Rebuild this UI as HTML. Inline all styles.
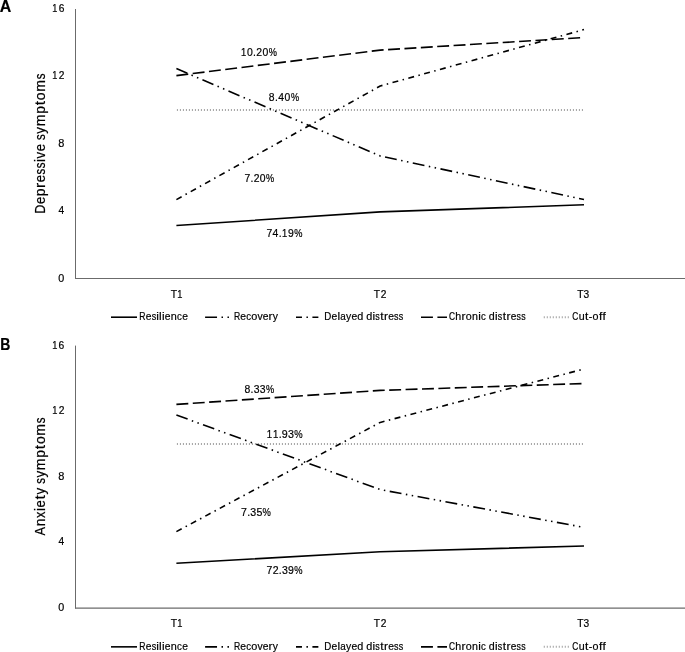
<!DOCTYPE html>
<html><head><meta charset="utf-8"><style>
html,body{margin:0;padding:0;background:#fff;}
svg{display:block;filter:grayscale(1);font-family:"Liberation Sans",sans-serif;font-size:100px;}
</style></head><body>
<svg width="685" height="652" viewBox="0 0 685 652">
<rect width="685" height="652" fill="#fff"/>
<line x1="75.5" y1="9.00" x2="75.5" y2="279.00" stroke="#6b6b6b" stroke-width="1"/>
<line x1="75" y1="278.50" x2="685" y2="278.50" stroke="#6b6b6b" stroke-width="1"/>
<g font-weight="normal" fill="#000" stroke="#000" stroke-width="0.2" ><text transform="translate(52.30,12.10) scale(0.091633,0.111748)" vector-effect="non-scaling-stroke">1</text><text transform="translate(58.63,12.10) scale(0.101871,0.111748)" vector-effect="non-scaling-stroke">6</text></g>
<g font-weight="normal" fill="#000" stroke="#000" stroke-width="0.2" ><text transform="translate(52.30,79.48) scale(0.091633,0.111748)" vector-effect="non-scaling-stroke">1</text><text transform="translate(58.70,79.48) scale(0.101871,0.111748)" vector-effect="non-scaling-stroke">2</text></g>
<g font-weight="normal" fill="#000" stroke="#000" stroke-width="0.2" ><text transform="translate(58.22,146.85) scale(0.110043,0.111748)" vector-effect="non-scaling-stroke">8</text></g>
<g font-weight="normal" fill="#000" stroke="#000" stroke-width="0.2" ><text transform="translate(58.48,214.22) scale(0.102183,0.113372)" vector-effect="non-scaling-stroke">4</text></g>
<g font-weight="normal" fill="#000" stroke="#000" stroke-width="0.2" ><text transform="translate(58.27,281.60) scale(0.107741,0.111748)" vector-effect="non-scaling-stroke">0</text></g>
<g fill="#000" stroke="#000" stroke-width="0.2"><text transform="translate(45.14,213.69) rotate(-90) scale(0.125514,0.147384)" vector-effect="non-scaling-stroke">D</text><text transform="translate(45.14,204.02) rotate(-90) scale(0.131972,0.138541)" vector-effect="non-scaling-stroke">e</text><text transform="translate(45.14,196.13) rotate(-90) scale(0.139127,0.138541)" vector-effect="non-scaling-stroke">p</text><text transform="translate(45.14,187.92) rotate(-90) scale(0.154465,0.138541)" vector-effect="non-scaling-stroke">r</text><text transform="translate(45.14,182.32) rotate(-90) scale(0.131972,0.138541)" vector-effect="non-scaling-stroke">e</text><text transform="translate(45.14,174.50) rotate(-90) scale(0.115254,0.138541)" vector-effect="non-scaling-stroke">s</text><text transform="translate(45.14,168.32) rotate(-90) scale(0.115254,0.138541)" vector-effect="non-scaling-stroke">s</text><text transform="translate(45.14,162.22) rotate(-90) scale(0.151924,0.147384)" vector-effect="non-scaling-stroke">i</text><text transform="translate(45.14,158.48) rotate(-90) scale(0.133235,0.138541)" vector-effect="non-scaling-stroke">v</text><text transform="translate(45.14,151.31) rotate(-90) scale(0.131972,0.138541)" vector-effect="non-scaling-stroke">e</text><text transform="translate(45.14,139.91) rotate(-90) scale(0.115254,0.138541)" vector-effect="non-scaling-stroke">s</text><text transform="translate(45.14,133.69) rotate(-90) scale(0.133530,0.138541)" vector-effect="non-scaling-stroke">y</text><text transform="translate(45.14,126.34) rotate(-90) scale(0.141368,0.138541)" vector-effect="non-scaling-stroke">m</text><text transform="translate(45.14,113.85) rotate(-90) scale(0.139127,0.138541)" vector-effect="non-scaling-stroke">p</text><text transform="translate(45.14,105.33) rotate(-90) scale(0.154753,0.147384)" vector-effect="non-scaling-stroke">t</text><text transform="translate(45.14,100.25) rotate(-90) scale(0.139657,0.138541)" vector-effect="non-scaling-stroke">o</text><text transform="translate(45.14,91.77) rotate(-90) scale(0.141368,0.138541)" vector-effect="non-scaling-stroke">m</text><text transform="translate(45.14,79.35) rotate(-90) scale(0.115254,0.138541)" vector-effect="non-scaling-stroke">s</text></g>
<text transform="translate(-0.32,11.70) scale(0.159701,0.162064)" font-weight="bold" fill="#000" stroke="#000" stroke-width="0.2" vector-effect="non-scaling-stroke">A</text>
<g font-weight="normal" fill="#000" stroke="#000" stroke-width="0.2" ><text transform="translate(170.77,297.60) scale(0.104302,0.113372)" vector-effect="non-scaling-stroke">T</text><text transform="translate(177.28,297.60) scale(0.092965,0.113372)" vector-effect="non-scaling-stroke">1</text></g>
<g font-weight="normal" fill="#000" stroke="#000" stroke-width="0.2" ><text transform="translate(373.87,297.60) scale(0.102808,0.111748)" vector-effect="non-scaling-stroke">T</text><text transform="translate(380.65,297.60) scale(0.101871,0.111748)" vector-effect="non-scaling-stroke">2</text></g>
<g font-weight="normal" fill="#000" stroke="#000" stroke-width="0.2" ><text transform="translate(577.17,297.60) scale(0.102808,0.111748)" vector-effect="non-scaling-stroke">T</text><text transform="translate(583.38,297.60) scale(0.101871,0.111748)" vector-effect="non-scaling-stroke">3</text></g>
<polyline points="176.90,110.00 584.00,110.00" fill="none" stroke="#a9a9a9" stroke-width="2.0" stroke-linejoin="round" stroke-linecap="butt" stroke-dasharray="1.1 1.9"/>
<polyline points="176.40,225.50 380.20,211.90 584.00,204.80" fill="none" stroke="#000" stroke-width="1.6" stroke-linejoin="round" stroke-linecap="butt"/>
<polyline points="176.40,68.60 380.20,156.00 584.00,199.50" fill="none" stroke="#000" stroke-width="1.6" stroke-linejoin="round" stroke-linecap="butt" stroke-dasharray="11.932 4.474 1.492 4.474 1.492 4.474"/>
<polyline points="176.40,199.60 380.20,86.00 584.00,29.60" fill="none" stroke="#000" stroke-width="1.6" stroke-linejoin="round" stroke-linecap="butt" stroke-dasharray="5.966 4.474 1.492 4.474"/>
<polyline points="176.40,75.60 380.20,50.10 584.00,37.50" fill="none" stroke="#000" stroke-width="1.6" stroke-linejoin="round" stroke-linecap="butt" stroke-dasharray="11.932 4.474"/>
<g font-weight="normal" fill="#000" stroke="#000" stroke-width="0.2" ><text transform="translate(241.09,56.00) scale(0.093983,0.114613)" vector-effect="non-scaling-stroke">1</text><text transform="translate(246.97,56.00) scale(0.104483,0.114613)" vector-effect="non-scaling-stroke">0</text><text transform="translate(253.05,56.00) scale(0.103952,0.114613)" vector-effect="non-scaling-stroke">.</text><text transform="translate(256.21,56.00) scale(0.104483,0.114613)" vector-effect="non-scaling-stroke">2</text><text transform="translate(262.38,56.00) scale(0.104483,0.114613)" vector-effect="non-scaling-stroke">0</text><text transform="translate(268.63,56.00) scale(0.092164,0.114613)" vector-effect="non-scaling-stroke">%</text></g>
<g font-weight="normal" fill="#000" stroke="#000" stroke-width="0.2" ><text transform="translate(268.74,100.75) scale(0.103830,0.113897)" vector-effect="non-scaling-stroke">8</text><text transform="translate(274.95,100.75) scale(0.103303,0.113897)" vector-effect="non-scaling-stroke">.</text><text transform="translate(278.25,100.75) scale(0.103830,0.113897)" vector-effect="non-scaling-stroke">4</text><text transform="translate(284.61,100.75) scale(0.103830,0.113897)" vector-effect="non-scaling-stroke">0</text><text transform="translate(291.08,100.75) scale(0.091588,0.113897)" vector-effect="non-scaling-stroke">%</text></g>
<g font-weight="normal" fill="#000" stroke="#000" stroke-width="0.2" ><text transform="translate(244.52,181.60) scale(0.103830,0.113897)" vector-effect="non-scaling-stroke">7</text><text transform="translate(250.54,181.60) scale(0.103303,0.113897)" vector-effect="non-scaling-stroke">.</text><text transform="translate(253.66,181.60) scale(0.103830,0.113897)" vector-effect="non-scaling-stroke">2</text><text transform="translate(259.77,181.60) scale(0.103830,0.113897)" vector-effect="non-scaling-stroke">0</text><text transform="translate(265.95,181.60) scale(0.091588,0.113897)" vector-effect="non-scaling-stroke">%</text></g>
<g font-weight="normal" fill="#000" stroke="#000" stroke-width="0.2" ><text transform="translate(266.46,236.80) scale(0.104483,0.114613)" vector-effect="non-scaling-stroke">7</text><text transform="translate(272.60,236.80) scale(0.104483,0.114613)" vector-effect="non-scaling-stroke">4</text><text transform="translate(278.65,236.80) scale(0.103952,0.114613)" vector-effect="non-scaling-stroke">.</text><text transform="translate(282.08,236.80) scale(0.093983,0.114613)" vector-effect="non-scaling-stroke">1</text><text transform="translate(287.92,236.80) scale(0.104483,0.114613)" vector-effect="non-scaling-stroke">9</text><text transform="translate(294.13,236.80) scale(0.092164,0.114613)" vector-effect="non-scaling-stroke">%</text></g>
<polyline points="111.00,317.20 137.00,317.20" fill="none" stroke="#000" stroke-width="1.6" stroke-linejoin="round" stroke-linecap="butt"/>
<polyline points="205.10,317.20 231.10,317.20" fill="none" stroke="#000" stroke-width="1.6" stroke-linejoin="round" stroke-linecap="butt" stroke-dasharray="11.932 4.474 1.492 4.474 1.492 4.474"/>
<polyline points="296.00,317.20 322.00,317.20" fill="none" stroke="#000" stroke-width="1.6" stroke-linejoin="round" stroke-linecap="butt" stroke-dasharray="5.966 4.474 1.492 4.474"/>
<polyline points="421.00,317.20 447.00,317.20" fill="none" stroke="#000" stroke-width="1.6" stroke-linejoin="round" stroke-linecap="butt" stroke-dasharray="11.932 4.474"/>
<polyline points="543.75,317.20 568.85,317.20" fill="none" stroke="#a9a9a9" stroke-width="2.0" stroke-linejoin="round" stroke-linecap="butt" stroke-dasharray="1.1 1.9"/>
<g font-weight="normal" fill="#000" stroke="#000" stroke-width="0.2" ><text transform="translate(139.19,320.30) scale(0.086339,0.114826)" vector-effect="non-scaling-stroke">R</text><text transform="translate(145.72,320.30) scale(0.102818,0.107936)" vector-effect="non-scaling-stroke">e</text><text transform="translate(151.69,320.30) scale(0.089794,0.107936)" vector-effect="non-scaling-stroke">s</text><text transform="translate(156.36,320.30) scale(0.118363,0.114826)" vector-effect="non-scaling-stroke">i</text><text transform="translate(159.12,320.30) scale(0.118363,0.114826)" vector-effect="non-scaling-stroke">l</text><text transform="translate(161.88,320.30) scale(0.118363,0.114826)" vector-effect="non-scaling-stroke">i</text><text transform="translate(164.71,320.30) scale(0.102818,0.107936)" vector-effect="non-scaling-stroke">e</text><text transform="translate(170.72,320.30) scale(0.108393,0.107936)" vector-effect="non-scaling-stroke">n</text><text transform="translate(177.02,320.30) scale(0.097142,0.107936)" vector-effect="non-scaling-stroke">c</text><text transform="translate(182.14,320.30) scale(0.102818,0.107936)" vector-effect="non-scaling-stroke">e</text></g>
<g font-weight="normal" fill="#000" stroke="#000" stroke-width="0.2" ><text transform="translate(233.94,320.30) scale(0.086339,0.114826)" vector-effect="non-scaling-stroke">R</text><text transform="translate(240.34,320.30) scale(0.102818,0.107936)" vector-effect="non-scaling-stroke">e</text><text transform="translate(246.20,320.30) scale(0.097142,0.107936)" vector-effect="non-scaling-stroke">c</text><text transform="translate(251.20,320.30) scale(0.108806,0.107936)" vector-effect="non-scaling-stroke">o</text><text transform="translate(257.40,320.30) scale(0.103802,0.107936)" vector-effect="non-scaling-stroke">v</text><text transform="translate(262.74,320.30) scale(0.102818,0.107936)" vector-effect="non-scaling-stroke">e</text><text transform="translate(268.59,320.30) scale(0.120343,0.107936)" vector-effect="non-scaling-stroke">r</text><text transform="translate(272.72,320.30) scale(0.104032,0.107936)" vector-effect="non-scaling-stroke">y</text></g>
<g font-weight="normal" fill="#000" stroke="#000" stroke-width="0.2" ><text transform="translate(324.30,320.30) scale(0.097787,0.114826)" vector-effect="non-scaling-stroke">D</text><text transform="translate(331.61,320.30) scale(0.102818,0.107936)" vector-effect="non-scaling-stroke">e</text><text transform="translate(337.49,320.30) scale(0.118363,0.114826)" vector-effect="non-scaling-stroke">l</text><text transform="translate(340.28,320.30) scale(0.098896,0.107936)" vector-effect="non-scaling-stroke">a</text><text transform="translate(346.00,320.30) scale(0.104032,0.107936)" vector-effect="non-scaling-stroke">y</text><text transform="translate(351.41,320.30) scale(0.102818,0.107936)" vector-effect="non-scaling-stroke">e</text><text transform="translate(357.36,320.30) scale(0.108393,0.114826)" vector-effect="non-scaling-stroke">d</text><text transform="translate(366.32,320.30) scale(0.108393,0.114826)" vector-effect="non-scaling-stroke">d</text><text transform="translate(372.52,320.30) scale(0.118363,0.114826)" vector-effect="non-scaling-stroke">i</text><text transform="translate(375.29,320.30) scale(0.089794,0.107936)" vector-effect="non-scaling-stroke">s</text><text transform="translate(380.20,320.30) scale(0.120567,0.114826)" vector-effect="non-scaling-stroke">t</text><text transform="translate(383.95,320.30) scale(0.120343,0.107936)" vector-effect="non-scaling-stroke">r</text><text transform="translate(388.15,320.30) scale(0.102818,0.107936)" vector-effect="non-scaling-stroke">e</text><text transform="translate(394.07,320.30) scale(0.089794,0.107936)" vector-effect="non-scaling-stroke">s</text><text transform="translate(398.73,320.30) scale(0.089794,0.107936)" vector-effect="non-scaling-stroke">s</text></g>
<g font-weight="normal" fill="#000" stroke="#000" stroke-width="0.2" ><text transform="translate(448.98,320.30) scale(0.083535,0.113181)" vector-effect="non-scaling-stroke">C</text><text transform="translate(455.35,320.30) scale(0.106840,0.113181)" vector-effect="non-scaling-stroke">h</text><text transform="translate(461.57,320.30) scale(0.118619,0.106390)" vector-effect="non-scaling-stroke">r</text><text transform="translate(465.79,320.30) scale(0.107247,0.106390)" vector-effect="non-scaling-stroke">o</text><text transform="translate(472.09,320.30) scale(0.106840,0.106390)" vector-effect="non-scaling-stroke">n</text><text transform="translate(478.27,320.30) scale(0.116667,0.113181)" vector-effect="non-scaling-stroke">i</text><text transform="translate(481.07,320.30) scale(0.095751,0.106390)" vector-effect="non-scaling-stroke">c</text><text transform="translate(488.86,320.30) scale(0.106840,0.113181)" vector-effect="non-scaling-stroke">d</text><text transform="translate(495.04,320.30) scale(0.116667,0.113181)" vector-effect="non-scaling-stroke">i</text><text transform="translate(497.82,320.30) scale(0.088507,0.106390)" vector-effect="non-scaling-stroke">s</text><text transform="translate(502.72,320.30) scale(0.118840,0.113181)" vector-effect="non-scaling-stroke">t</text><text transform="translate(506.49,320.30) scale(0.118619,0.106390)" vector-effect="non-scaling-stroke">r</text><text transform="translate(510.70,320.30) scale(0.101345,0.106390)" vector-effect="non-scaling-stroke">e</text><text transform="translate(516.62,320.30) scale(0.088507,0.106390)" vector-effect="non-scaling-stroke">s</text><text transform="translate(521.29,320.30) scale(0.088507,0.106390)" vector-effect="non-scaling-stroke">s</text></g>
<g font-weight="normal" fill="#000" stroke="#000" stroke-width="0.2" ><text transform="translate(572.25,320.30) scale(0.083535,0.113181)" vector-effect="non-scaling-stroke">C</text><text transform="translate(578.63,320.30) scale(0.106840,0.106390)" vector-effect="non-scaling-stroke">u</text><text transform="translate(585.11,320.30) scale(0.118840,0.113181)" vector-effect="non-scaling-stroke">t</text><text transform="translate(588.86,320.30) scale(0.104004,0.113181)" vector-effect="non-scaling-stroke">-</text><text transform="translate(592.60,320.30) scale(0.107247,0.106390)" vector-effect="non-scaling-stroke">o</text><text transform="translate(598.92,320.30) scale(0.118840,0.113181)" vector-effect="non-scaling-stroke">f</text><text transform="translate(602.57,320.30) scale(0.118840,0.113181)" vector-effect="non-scaling-stroke">f</text></g>
<line x1="75.5" y1="345.60" x2="75.5" y2="608.55" stroke="#6b6b6b" stroke-width="1"/>
<line x1="75" y1="608.05" x2="685" y2="608.05" stroke="#6b6b6b" stroke-width="1.2"/>
<g font-weight="normal" fill="#000" stroke="#000" stroke-width="0.2" ><text transform="translate(52.29,348.75) scale(0.092808,0.113181)" vector-effect="non-scaling-stroke">1</text><text transform="translate(58.57,348.75) scale(0.103177,0.113181)" vector-effect="non-scaling-stroke">6</text></g>
<g font-weight="normal" fill="#000" stroke="#000" stroke-width="0.2" ><text transform="translate(52.29,414.31) scale(0.092808,0.113181)" vector-effect="non-scaling-stroke">1</text><text transform="translate(58.63,414.31) scale(0.103177,0.113181)" vector-effect="non-scaling-stroke">2</text></g>
<g font-weight="normal" fill="#000" stroke="#000" stroke-width="0.2" ><text transform="translate(58.22,479.87) scale(0.110043,0.113181)" vector-effect="non-scaling-stroke">8</text></g>
<g font-weight="normal" fill="#000" stroke="#000" stroke-width="0.2" ><text transform="translate(58.48,545.43) scale(0.102183,0.114826)" vector-effect="non-scaling-stroke">4</text></g>
<g font-weight="normal" fill="#000" stroke="#000" stroke-width="0.2" ><text transform="translate(58.27,610.99) scale(0.107741,0.113181)" vector-effect="non-scaling-stroke">0</text></g>
<g fill="#000" stroke="#000" stroke-width="0.2"><text transform="translate(45.14,535.43) rotate(-90) scale(0.127939,0.147384)" vector-effect="non-scaling-stroke">A</text><text transform="translate(45.14,526.31) rotate(-90) scale(0.139127,0.138541)" vector-effect="non-scaling-stroke">n</text><text transform="translate(45.14,518.06) rotate(-90) scale(0.127634,0.138541)" vector-effect="non-scaling-stroke">x</text><text transform="translate(45.14,511.33) rotate(-90) scale(0.151924,0.147384)" vector-effect="non-scaling-stroke">i</text><text transform="translate(45.14,507.57) rotate(-90) scale(0.131972,0.138541)" vector-effect="non-scaling-stroke">e</text><text transform="translate(45.14,499.47) rotate(-90) scale(0.154753,0.147384)" vector-effect="non-scaling-stroke">t</text><text transform="translate(45.14,494.43) rotate(-90) scale(0.133530,0.138541)" vector-effect="non-scaling-stroke">y</text><text transform="translate(45.14,483.74) rotate(-90) scale(0.115254,0.138541)" vector-effect="non-scaling-stroke">s</text><text transform="translate(45.14,477.53) rotate(-90) scale(0.133530,0.138541)" vector-effect="non-scaling-stroke">y</text><text transform="translate(45.14,470.19) rotate(-90) scale(0.141368,0.138541)" vector-effect="non-scaling-stroke">m</text><text transform="translate(45.14,457.71) rotate(-90) scale(0.139127,0.138541)" vector-effect="non-scaling-stroke">p</text><text transform="translate(45.14,449.20) rotate(-90) scale(0.154753,0.147384)" vector-effect="non-scaling-stroke">t</text><text transform="translate(45.14,444.12) rotate(-90) scale(0.139657,0.138541)" vector-effect="non-scaling-stroke">o</text><text transform="translate(45.14,435.65) rotate(-90) scale(0.141368,0.138541)" vector-effect="non-scaling-stroke">m</text><text transform="translate(45.14,423.25) rotate(-90) scale(0.115254,0.138541)" vector-effect="non-scaling-stroke">s</text></g>
<text transform="translate(0.25,349.85) scale(0.139836,0.162064)" font-weight="bold" fill="#000" stroke="#000" stroke-width="0.2" vector-effect="non-scaling-stroke">B</text>
<g font-weight="normal" fill="#000" stroke="#000" stroke-width="0.2" ><text transform="translate(170.77,626.70) scale(0.104302,0.113372)" vector-effect="non-scaling-stroke">T</text><text transform="translate(177.28,626.70) scale(0.092965,0.113372)" vector-effect="non-scaling-stroke">1</text></g>
<g font-weight="normal" fill="#000" stroke="#000" stroke-width="0.2" ><text transform="translate(373.87,626.70) scale(0.102808,0.111748)" vector-effect="non-scaling-stroke">T</text><text transform="translate(380.65,626.70) scale(0.101871,0.111748)" vector-effect="non-scaling-stroke">2</text></g>
<g font-weight="normal" fill="#000" stroke="#000" stroke-width="0.2" ><text transform="translate(577.17,626.70) scale(0.102808,0.111748)" vector-effect="non-scaling-stroke">T</text><text transform="translate(583.38,626.70) scale(0.101871,0.111748)" vector-effect="non-scaling-stroke">3</text></g>
<polyline points="176.90,444.00 584.00,444.00" fill="none" stroke="#a9a9a9" stroke-width="2.0" stroke-linejoin="round" stroke-linecap="butt" stroke-dasharray="1.1 1.9"/>
<polyline points="176.40,563.30 380.20,551.80 584.00,546.00" fill="none" stroke="#000" stroke-width="1.6" stroke-linejoin="round" stroke-linecap="butt"/>
<polyline points="176.40,415.00 380.20,489.60 584.00,527.40" fill="none" stroke="#000" stroke-width="1.6" stroke-linejoin="round" stroke-linecap="butt" stroke-dasharray="11.932 4.474 1.492 4.474 1.492 4.474"/>
<polyline points="176.40,531.60 380.20,422.40 584.00,369.00" fill="none" stroke="#000" stroke-width="1.6" stroke-linejoin="round" stroke-linecap="butt" stroke-dasharray="5.966 4.474 1.492 4.474"/>
<polyline points="176.40,404.40 380.20,390.40 584.00,383.50" fill="none" stroke="#000" stroke-width="1.6" stroke-linejoin="round" stroke-linecap="butt" stroke-dasharray="11.932 4.474"/>
<g font-weight="normal" fill="#000" stroke="#000" stroke-width="0.2" ><text transform="translate(244.60,392.75) scale(0.104222,0.114327)" vector-effect="non-scaling-stroke">8</text><text transform="translate(250.61,392.75) scale(0.103693,0.114327)" vector-effect="non-scaling-stroke">.</text><text transform="translate(253.70,392.75) scale(0.104222,0.114327)" vector-effect="non-scaling-stroke">3</text><text transform="translate(259.78,392.75) scale(0.104222,0.114327)" vector-effect="non-scaling-stroke">3</text><text transform="translate(265.92,392.75) scale(0.091934,0.114327)" vector-effect="non-scaling-stroke">%</text></g>
<g font-weight="normal" fill="#000" stroke="#000" stroke-width="0.2" ><text transform="translate(266.74,437.67) scale(0.096332,0.117479)" vector-effect="non-scaling-stroke">1</text><text transform="translate(272.89,437.67) scale(0.096332,0.117479)" vector-effect="non-scaling-stroke">1</text><text transform="translate(278.69,437.67) scale(0.106551,0.117479)" vector-effect="non-scaling-stroke">.</text><text transform="translate(281.79,437.67) scale(0.107095,0.117479)" vector-effect="non-scaling-stroke">9</text><text transform="translate(287.94,437.67) scale(0.107095,0.117479)" vector-effect="non-scaling-stroke">3</text><text transform="translate(294.13,437.67) scale(0.094468,0.117479)" vector-effect="non-scaling-stroke">%</text></g>
<g font-weight="normal" fill="#000" stroke="#000" stroke-width="0.2" ><text transform="translate(241.10,515.80) scale(0.106442,0.116762)" vector-effect="non-scaling-stroke">7</text><text transform="translate(247.18,515.80) scale(0.105901,0.116762)" vector-effect="non-scaling-stroke">.</text><text transform="translate(250.29,515.80) scale(0.106442,0.116762)" vector-effect="non-scaling-stroke">3</text><text transform="translate(256.43,515.80) scale(0.106442,0.116762)" vector-effect="non-scaling-stroke">5</text><text transform="translate(262.62,515.80) scale(0.093892,0.116762)" vector-effect="non-scaling-stroke">%</text></g>
<g font-weight="normal" fill="#000" stroke="#000" stroke-width="0.2" ><text transform="translate(266.59,573.67) scale(0.105397,0.115616)" vector-effect="non-scaling-stroke">7</text><text transform="translate(272.73,573.67) scale(0.105397,0.115616)" vector-effect="non-scaling-stroke">2</text><text transform="translate(278.80,573.67) scale(0.104862,0.115616)" vector-effect="non-scaling-stroke">.</text><text transform="translate(281.92,573.67) scale(0.105397,0.115616)" vector-effect="non-scaling-stroke">3</text><text transform="translate(288.06,573.67) scale(0.105397,0.115616)" vector-effect="non-scaling-stroke">9</text><text transform="translate(294.26,573.67) scale(0.092971,0.115616)" vector-effect="non-scaling-stroke">%</text></g>
<polyline points="111.00,646.85 137.00,646.85" fill="none" stroke="#000" stroke-width="1.6" stroke-linejoin="round" stroke-linecap="butt"/>
<polyline points="205.10,646.85 231.10,646.85" fill="none" stroke="#000" stroke-width="1.6" stroke-linejoin="round" stroke-linecap="butt" stroke-dasharray="11.932 4.474 1.492 4.474 1.492 4.474"/>
<polyline points="296.00,646.85 322.00,646.85" fill="none" stroke="#000" stroke-width="1.6" stroke-linejoin="round" stroke-linecap="butt" stroke-dasharray="5.966 4.474 1.492 4.474"/>
<polyline points="421.00,646.85 447.00,646.85" fill="none" stroke="#000" stroke-width="1.6" stroke-linejoin="round" stroke-linecap="butt" stroke-dasharray="11.932 4.474"/>
<polyline points="543.75,646.85 568.85,646.85" fill="none" stroke="#a9a9a9" stroke-width="2.0" stroke-linejoin="round" stroke-linecap="butt" stroke-dasharray="1.1 1.9"/>
<g font-weight="normal" fill="#000" stroke="#000" stroke-width="0.2" ><text transform="translate(139.19,650.20) scale(0.086339,0.114826)" vector-effect="non-scaling-stroke">R</text><text transform="translate(145.72,650.20) scale(0.102818,0.107936)" vector-effect="non-scaling-stroke">e</text><text transform="translate(151.69,650.20) scale(0.089794,0.107936)" vector-effect="non-scaling-stroke">s</text><text transform="translate(156.36,650.20) scale(0.118363,0.114826)" vector-effect="non-scaling-stroke">i</text><text transform="translate(159.12,650.20) scale(0.118363,0.114826)" vector-effect="non-scaling-stroke">l</text><text transform="translate(161.88,650.20) scale(0.118363,0.114826)" vector-effect="non-scaling-stroke">i</text><text transform="translate(164.71,650.20) scale(0.102818,0.107936)" vector-effect="non-scaling-stroke">e</text><text transform="translate(170.72,650.20) scale(0.108393,0.107936)" vector-effect="non-scaling-stroke">n</text><text transform="translate(177.02,650.20) scale(0.097142,0.107936)" vector-effect="non-scaling-stroke">c</text><text transform="translate(182.14,650.20) scale(0.102818,0.107936)" vector-effect="non-scaling-stroke">e</text></g>
<g font-weight="normal" fill="#000" stroke="#000" stroke-width="0.2" ><text transform="translate(233.94,650.20) scale(0.086339,0.114826)" vector-effect="non-scaling-stroke">R</text><text transform="translate(240.34,650.20) scale(0.102818,0.107936)" vector-effect="non-scaling-stroke">e</text><text transform="translate(246.20,650.20) scale(0.097142,0.107936)" vector-effect="non-scaling-stroke">c</text><text transform="translate(251.20,650.20) scale(0.108806,0.107936)" vector-effect="non-scaling-stroke">o</text><text transform="translate(257.40,650.20) scale(0.103802,0.107936)" vector-effect="non-scaling-stroke">v</text><text transform="translate(262.74,650.20) scale(0.102818,0.107936)" vector-effect="non-scaling-stroke">e</text><text transform="translate(268.59,650.20) scale(0.120343,0.107936)" vector-effect="non-scaling-stroke">r</text><text transform="translate(272.72,650.20) scale(0.104032,0.107936)" vector-effect="non-scaling-stroke">y</text></g>
<g font-weight="normal" fill="#000" stroke="#000" stroke-width="0.2" ><text transform="translate(324.30,650.20) scale(0.097787,0.114826)" vector-effect="non-scaling-stroke">D</text><text transform="translate(331.61,650.20) scale(0.102818,0.107936)" vector-effect="non-scaling-stroke">e</text><text transform="translate(337.49,650.20) scale(0.118363,0.114826)" vector-effect="non-scaling-stroke">l</text><text transform="translate(340.28,650.20) scale(0.098896,0.107936)" vector-effect="non-scaling-stroke">a</text><text transform="translate(346.00,650.20) scale(0.104032,0.107936)" vector-effect="non-scaling-stroke">y</text><text transform="translate(351.41,650.20) scale(0.102818,0.107936)" vector-effect="non-scaling-stroke">e</text><text transform="translate(357.36,650.20) scale(0.108393,0.114826)" vector-effect="non-scaling-stroke">d</text><text transform="translate(366.32,650.20) scale(0.108393,0.114826)" vector-effect="non-scaling-stroke">d</text><text transform="translate(372.52,650.20) scale(0.118363,0.114826)" vector-effect="non-scaling-stroke">i</text><text transform="translate(375.29,650.20) scale(0.089794,0.107936)" vector-effect="non-scaling-stroke">s</text><text transform="translate(380.20,650.20) scale(0.120567,0.114826)" vector-effect="non-scaling-stroke">t</text><text transform="translate(383.95,650.20) scale(0.120343,0.107936)" vector-effect="non-scaling-stroke">r</text><text transform="translate(388.15,650.20) scale(0.102818,0.107936)" vector-effect="non-scaling-stroke">e</text><text transform="translate(394.07,650.20) scale(0.089794,0.107936)" vector-effect="non-scaling-stroke">s</text><text transform="translate(398.73,650.20) scale(0.089794,0.107936)" vector-effect="non-scaling-stroke">s</text></g>
<g font-weight="normal" fill="#000" stroke="#000" stroke-width="0.2" ><text transform="translate(448.98,650.20) scale(0.083535,0.113181)" vector-effect="non-scaling-stroke">C</text><text transform="translate(455.35,650.20) scale(0.106840,0.113181)" vector-effect="non-scaling-stroke">h</text><text transform="translate(461.57,650.20) scale(0.118619,0.106390)" vector-effect="non-scaling-stroke">r</text><text transform="translate(465.79,650.20) scale(0.107247,0.106390)" vector-effect="non-scaling-stroke">o</text><text transform="translate(472.09,650.20) scale(0.106840,0.106390)" vector-effect="non-scaling-stroke">n</text><text transform="translate(478.27,650.20) scale(0.116667,0.113181)" vector-effect="non-scaling-stroke">i</text><text transform="translate(481.07,650.20) scale(0.095751,0.106390)" vector-effect="non-scaling-stroke">c</text><text transform="translate(488.86,650.20) scale(0.106840,0.113181)" vector-effect="non-scaling-stroke">d</text><text transform="translate(495.04,650.20) scale(0.116667,0.113181)" vector-effect="non-scaling-stroke">i</text><text transform="translate(497.82,650.20) scale(0.088507,0.106390)" vector-effect="non-scaling-stroke">s</text><text transform="translate(502.72,650.20) scale(0.118840,0.113181)" vector-effect="non-scaling-stroke">t</text><text transform="translate(506.49,650.20) scale(0.118619,0.106390)" vector-effect="non-scaling-stroke">r</text><text transform="translate(510.70,650.20) scale(0.101345,0.106390)" vector-effect="non-scaling-stroke">e</text><text transform="translate(516.62,650.20) scale(0.088507,0.106390)" vector-effect="non-scaling-stroke">s</text><text transform="translate(521.29,650.20) scale(0.088507,0.106390)" vector-effect="non-scaling-stroke">s</text></g>
<g font-weight="normal" fill="#000" stroke="#000" stroke-width="0.2" ><text transform="translate(572.25,650.20) scale(0.083535,0.113181)" vector-effect="non-scaling-stroke">C</text><text transform="translate(578.63,650.20) scale(0.106840,0.106390)" vector-effect="non-scaling-stroke">u</text><text transform="translate(585.11,650.20) scale(0.118840,0.113181)" vector-effect="non-scaling-stroke">t</text><text transform="translate(588.86,650.20) scale(0.104004,0.113181)" vector-effect="non-scaling-stroke">-</text><text transform="translate(592.60,650.20) scale(0.107247,0.106390)" vector-effect="non-scaling-stroke">o</text><text transform="translate(598.92,650.20) scale(0.118840,0.113181)" vector-effect="non-scaling-stroke">f</text><text transform="translate(602.57,650.20) scale(0.118840,0.113181)" vector-effect="non-scaling-stroke">f</text></g>
</svg>
</body></html>
